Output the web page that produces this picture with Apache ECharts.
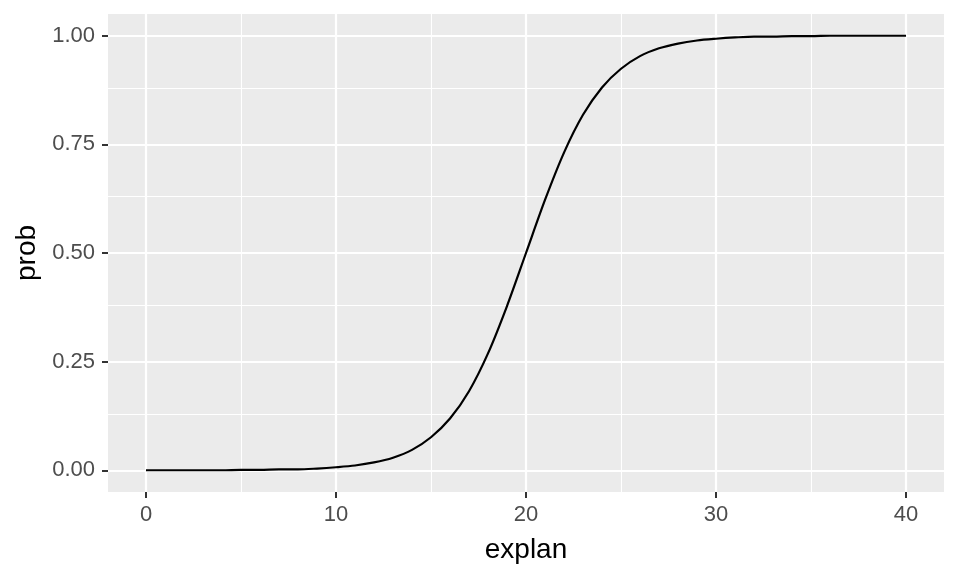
<!DOCTYPE html>
<html>
<head>
<meta charset="utf-8">
<script src="https://cdn.jsdelivr.net/npm/echarts@6/dist/echarts.min.js"></script>
<style>
  html, body { margin: 0; padding: 0; background: #fff; }
  #chart { width: 960px; height: 576px; }
</style>
</head>
<body>
<div id="chart"></div>
<script>
// values
const explan = [0, 1, 2, 3, 4, 5, 6, 7, 8, 9, 10, 11, 12, 13, 14, 15, 16, 17, 18, 19, 20,
  21, 22, 23, 24, 25, 26, 27, 28, 29, 30, 31, 32, 33, 34, 35, 36, 37, 38, 39, 40];
const prob = [0.000, 0.000, 0.000, 0.000, 0.000, 0.001, 0.001, 0.002, 0.002, 0.004, 0.007,
  0.011, 0.018, 0.029, 0.047, 0.076, 0.119, 0.182, 0.269, 0.378, 0.500,
  0.622, 0.731, 0.818, 0.881, 0.924, 0.953, 0.971, 0.982, 0.989, 0.993,
  0.996, 0.998, 0.998, 0.999, 0.999, 1.000, 1.000, 1.000, 1.000, 1.000];
const xTicks = [0, 10, 20, 30, 40];
const xMinor = [5, 15, 25, 35];
const yTicks = [0, 0.25, 0.5, 0.75, 1];
const yMinor = [0.125, 0.375, 0.625, 0.875];

const chart = echarts.init(document.getElementById('chart'));
const points = explan.map((x, i) => [x, prob[i]]);

const gridLines = (vals, key, width) => ({
  silent: true,
  symbol: ['none', 'none'],
  label: { show: false },
  lineStyle: { color: '#ffffff', width: width, type: 'solid', opacity: 1 },
  emphasis: { disabled: true },
  animation: false,
  data: vals.map(v => ({ [key]: v }))
});

const font = 'Liberation Sans, Arial, sans-serif';
const tickLabel = { color: '#4D4D4D', fontSize: 22, fontFamily: font };

const option = {
  animation: false,
  grid: { left: 108, right: 16, top: 14, bottom: 84, show: true, backgroundColor: '#EBEBEB', borderWidth: 0 },
  xAxis: {
    type: 'value', min: -2, max: 42,
    name: 'explan', nameLocation: 'middle', nameGap: 44,
    nameTextStyle: { color: '#000', fontSize: 28, fontFamily: font },
    axisLine: { show: true, onZero: false, lineStyle: { opacity: 0 } },
    axisTick: { show: true, customValues: xTicks, length: 6, lineStyle: { color: '#333', width: 2 } },
    axisLabel: Object.assign({ customValues: xTicks, margin: 12 }, tickLabel),
    splitLine: { show: false }
  },
  yAxis: {
    type: 'value', min: -0.05, max: 1.05,
    name: 'prob', nameLocation: 'middle', nameGap: 64,
    nameTextStyle: { color: '#000', fontSize: 28, fontFamily: font },
    axisLine: { show: true, onZero: false, lineStyle: { opacity: 0 } },
    axisTick: { show: true, customValues: yTicks, length: 6, lineStyle: { color: '#333', width: 2 } },
    axisLabel: Object.assign({ customValues: yTicks, margin: 13, formatter: v => v.toFixed(2) }, tickLabel),
    splitLine: { show: false }
  },
  series: [
    {
      type: 'line', data: points, z: 1, symbol: 'none', silent: true,
      lineStyle: { width: 0, opacity: 0 },
      markLine: gridLines(yMinor, 'yAxis', 1.1)
    },
    {
      type: 'line', data: points, z: 1, symbol: 'none', silent: true,
      lineStyle: { width: 0, opacity: 0 },
      markLine: gridLines(xMinor, 'xAxis', 1.1)
    },
    {
      type: 'line', data: points, z: 2, symbol: 'none', silent: true,
      lineStyle: { width: 0, opacity: 0 },
      markLine: gridLines(yTicks, 'yAxis', 2.2)
    },
    {
      type: 'line', data: points, z: 2, symbol: 'none', silent: true,
      lineStyle: { width: 0, opacity: 0 },
      markLine: gridLines(xTicks, 'xAxis', 2.2)
    },
    {
      name: 'prob', type: 'line', data: points, z: 5, symbol: 'none',
      smooth: 0.3,
      lineStyle: { color: '#000000', width: 2.2 }
    }
  ]
};
chart.setOption(option);
</script>
</body>
</html>
